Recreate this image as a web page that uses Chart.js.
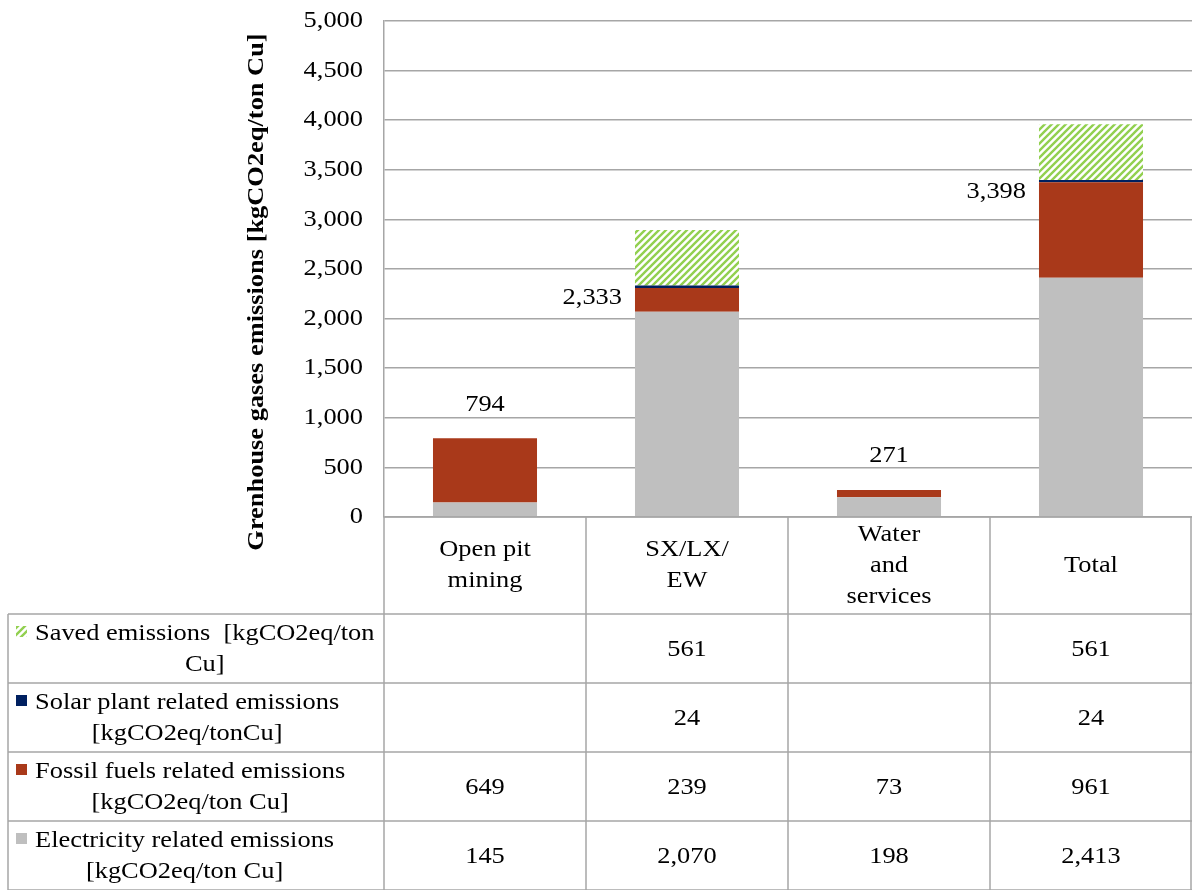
<!DOCTYPE html>
<html>
<head>
<meta charset="utf-8">
<script src="https://cdn.jsdelivr.net/npm/chart.js@4"></script>
<style>
  body { margin: 0; background: #fff; }
</style>
</head>
<body>
<canvas id="myChart" width="1192" height="890"></canvas>
<script>
// categories (header lines of the data table)
const categories = [["Open pit", "mining"], ["SX/LX/", "EW"], ["Water", "and", "services"], ["Total"]];

// series values, kgCO2eq/ton Cu
const electricity = [145, 2070, 198, 2413];
const fossil = [649, 239, 73, 961];
const solar = [null, 24, null, 24];
const saved = [null, 561, null, 561];

const seriesNames = [
  ["Electricity related emissions", "[kgCO2eq/ton Cu]"],
  ["Fossil fuels related emissions", "[kgCO2eq/ton Cu]"],
  ["Solar plant related emissions", "[kgCO2eq/tonCu]"],
  ["Saved emissions  [kgCO2eq/ton", "Cu]"],
];

const yMax = 5000;
const yStep = 500;

const serif = '"Liberation Serif", "Times New Roman", serif';
const gridGray = "#a6a6a6";

function hatch() {
  const c = document.createElement("canvas");
  c.width = 7;
  c.height = 7;
  const g = c.getContext("2d");
  g.fillStyle = "#fff";
  g.fillRect(0, 0, 7, 7);
  g.strokeStyle = "#92d050";
  g.lineWidth = 2.4;
  g.beginPath();
  g.moveTo(-1, 8); g.lineTo(8, -1);
  g.moveTo(-1, 1); g.lineTo(1, -1);
  g.moveTo(6, 8); g.lineTo(8, 6);
  g.stroke();
  return g.createPattern(c, "repeat");
}
const savedFill = hatch();

const colors = ["#bfbfbf", "#a9391a", "#002060", savedFill];

const SX = 1.1;
const FONT = "24px " + serif;

function txt(ctx, s, x, y, align) {
  ctx.save();
  ctx.font = FONT;
  ctx.fillStyle = "#000";
  ctx.textBaseline = "middle";
  ctx.textAlign = align;
  ctx.translate(x, y);
  ctx.scale(SX, 1);
  ctx.fillText(s, 0, 0);
  ctx.restore();
}

function textWidth(ctx, s) {
  ctx.save();
  ctx.font = FONT;
  const w = ctx.measureText(s).width * SX;
  ctx.restore();
  return w;
}

const fmt = (v) => v.toLocaleString("en-US");

// table rows under the plot
const headerH = 97;
const rowH = 69;
const tableLeft = 8;

const extras = {
  id: "extras",
  afterDraw(chart) {
    const ctx = chart.ctx;
    const area = chart.chartArea;
    const xs = chart.scales.x;
    const ys = chart.scales.y;
    const colW = (area.right - area.left) / categories.length;

    // y tick labels
    ys.ticks.forEach((t) => {
      txt(ctx, fmt(t.value), area.left - 21, ys.getPixelForValue(t.value), "right");
    });

    // y axis title
    ctx.save();
    ctx.translate(257, 292);
    ctx.rotate(-Math.PI / 2);
    ctx.scale(SX, 1);
    ctx.font = "bold 24px " + serif;
    ctx.fillStyle = "#000";
    ctx.textAlign = "center";
    ctx.textBaseline = "middle";
    ctx.fillText("Grenhouse gases emissions [kgCO2eq/ton Cu]", 0, 0);
    ctx.restore();

    // total labels
    const meta = chart.getDatasetMeta(0);
    categories.forEach((c, i) => {
      const total = electricity[i] + fossil[i] + (solar[i] || 0);
      const y = ys.getPixelForValue(total);
      const bar = meta.data[i];
      if (saved[i]) {
        txt(ctx, fmt(total), bar.x - bar.width / 2 - 13, y + 12, "right");
      } else {
        txt(ctx, fmt(total), bar.x, y - 34, "center");
      }
    });

    // data table grid
    const top = area.bottom;
    const rowsTop = top + headerH;
    const bottom = rowsTop + rowH * seriesNames.length;
    ctx.save();
    ctx.strokeStyle = gridGray;
    ctx.lineWidth = 1.5;
    ctx.beginPath();
    ctx.moveTo(area.left, top); ctx.lineTo(area.right, top);
    for (let r = 0; r <= seriesNames.length; r++) {
      const y = rowsTop + r * rowH;
      ctx.moveTo(tableLeft, y); ctx.lineTo(area.right, y);
    }
    ctx.moveTo(tableLeft, rowsTop); ctx.lineTo(tableLeft, bottom);
    for (let k = 0; k <= categories.length; k++) {
      const x = Math.min(area.left + k * colW, area.right - 1);
      ctx.moveTo(x, top); ctx.lineTo(x, bottom);
    }
    ctx.stroke();
    ctx.restore();

    // header: category names
    categories.forEach((lines, i) => {
      const cx = xs.getPixelForValue(i);
      const cy = top + headerH / 2;
      lines.forEach((l, j) => {
        txt(ctx, l, cx, cy + (j - (lines.length - 1) / 2) * 31, "center");
      });
    });

    // rows: legend key + values, top row is the last series
    const seriesData = [electricity, fossil, solar, saved];
    for (let r = 0; r < seriesNames.length; r++) {
      const s = seriesNames.length - 1 - r;
      const y0 = rowsTop + r * rowH;
      ctx.fillStyle = colors[s];
      ctx.fillRect(16, y0 + 12, 11, 11);
      const w = textWidth(ctx, seriesNames[s][0]);
      txt(ctx, seriesNames[s][0], 35, y0 + 20, "left");
      txt(ctx, seriesNames[s][1], 35 + w / 2, y0 + 51, "center");
      seriesData[s].forEach((v, i) => {
        if (v == null) return;
        txt(ctx, fmt(v), xs.getPixelForValue(i), y0 + rowH / 2 + 1, "center");
      });
    }
  },
};

new Chart(document.getElementById("myChart"), {
  type: "bar",
  data: {
    labels: categories.map((c) => c.join(" ")),
    datasets: [
      { label: seriesNames[0].join(" "), data: electricity, backgroundColor: colors[0] },
      { label: seriesNames[1].join(" "), data: fossil, backgroundColor: colors[1] },
      { label: seriesNames[2].join(" "), data: solar, backgroundColor: colors[2] },
      { label: seriesNames[3].join(" "), data: saved, backgroundColor: colors[3] },
    ],
  },
  options: {
    responsive: false,
    animation: false,
    layout: { padding: { top: 21, bottom: 373, left: 0, right: 0 } },
    datasets: {
      bar: { barPercentage: 0.515, categoryPercentage: 1, borderWidth: 0 },
    },
    plugins: {
      legend: { display: false },
      tooltip: { enabled: false },
    },
    scales: {
      x: { display: false, stacked: true },
      y: {
        stacked: true,
        min: 0,
        max: yMax,
        ticks: { stepSize: yStep, display: false },
        grid: { color: gridGray, lineWidth: 1.5, drawTicks: false },
        border: { display: true, color: gridGray, width: 1.5 },
        afterFit: (scale) => {
          scale.width = 384;
        },
      },
    },
  },
  plugins: [extras],
});
</script>
</body>
</html>
